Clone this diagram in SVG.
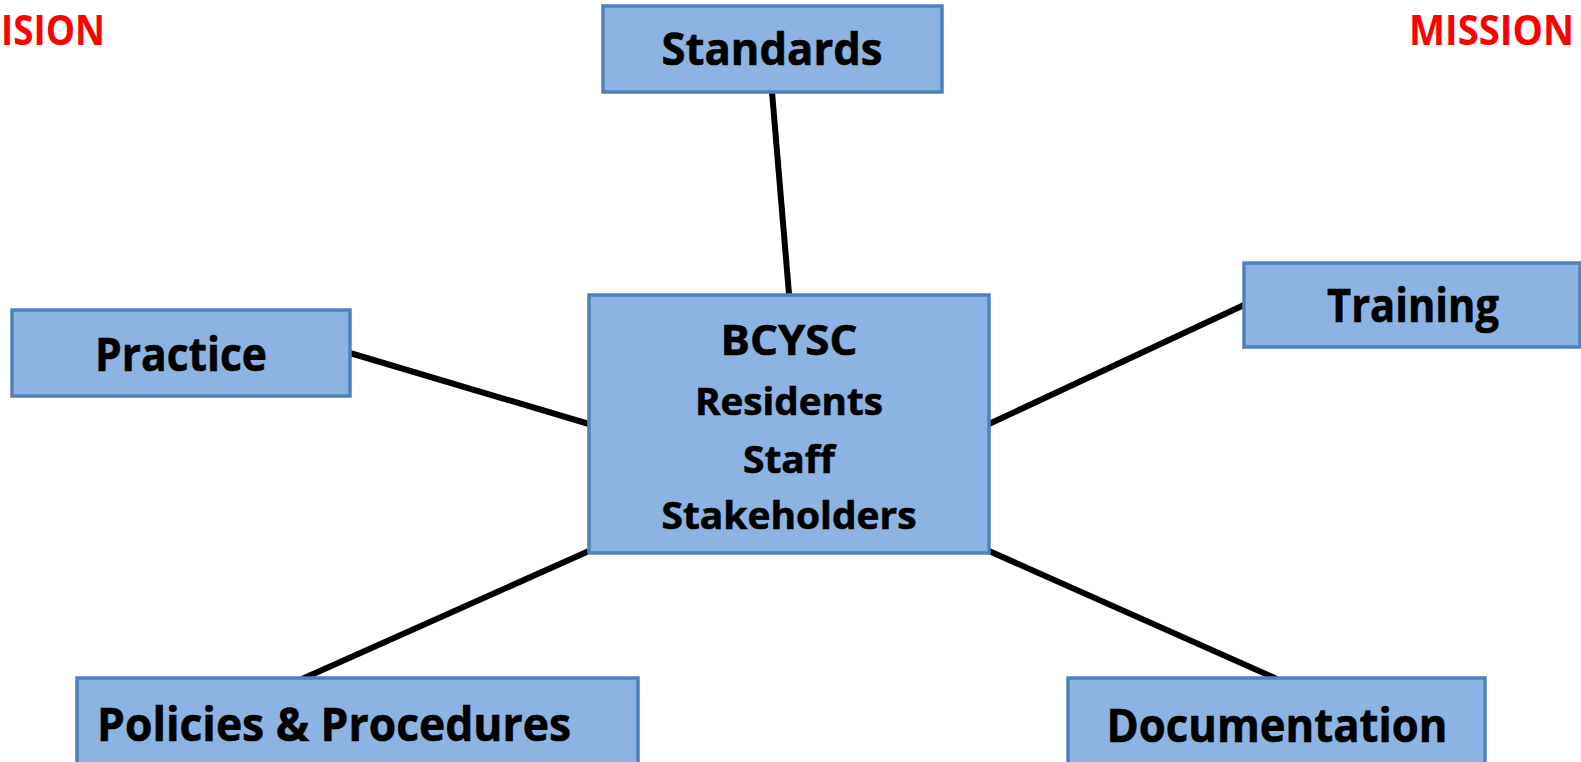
<svg xmlns="http://www.w3.org/2000/svg" width="1581" height="762" viewBox="0 0 1581 762">
<style>
.box{fill:#8db3e2;stroke:#4f81bd;stroke-width:3.5}
.t{font-family:"Open Sans","Liberation Sans",sans-serif;font-weight:bold;fill:#000;text-anchor:middle;stroke:#000;stroke-width:0.6}
.red{font-family:"Open Sans","Liberation Sans",sans-serif;font-weight:bold;fill:#ff0000;font-size:42px}
.ln{stroke:#000;stroke-width:6;fill:none}
</style>
<rect width="1581" height="762" fill="#fff"/>
<text class="red" x="105" y="45" text-anchor="end" textLength="104" lengthAdjust="spacingAndGlyphs">ISION</text>
<text class="red" x="1409" y="45" textLength="165" lengthAdjust="spacingAndGlyphs">MISSION</text>
<g id="connectors">
<line class="ln" x1="772" y1="92" x2="789" y2="294"/>
<line class="ln" x1="350" y1="353" x2="589" y2="424"/>
<line class="ln" x1="1244" y1="305" x2="989" y2="424"/>
<line class="ln" x1="302" y1="679" x2="589" y2="551"/>
<line class="ln" x1="1277" y1="679" x2="989" y2="551"/>
</g>
<g id="standards">
<rect class="box" x="603" y="6" width="339" height="86"/>
<text class="t" x="772" y="65" font-size="45" textLength="221" lengthAdjust="spacingAndGlyphs">Standards</text>
</g>
<g id="center">
<rect class="box" x="589" y="295" width="400" height="258"/>
<text class="t" x="789" y="355" font-size="42" textLength="137" lengthAdjust="spacingAndGlyphs">BCYSC</text>
<text class="t" x="789" y="415" font-size="37" textLength="188" lengthAdjust="spacingAndGlyphs">Residents</text>
<text class="t" x="789" y="473" font-size="37" textLength="92" lengthAdjust="spacingAndGlyphs">Staff</text>
<text class="t" x="789" y="529" font-size="37" textLength="255" lengthAdjust="spacingAndGlyphs">Stakeholders</text>
</g>
<g id="practice">
<rect class="box" x="12" y="310" width="338" height="86"/>
<text class="t" x="181" y="371" font-size="46" textLength="172" lengthAdjust="spacingAndGlyphs">Practice</text>
</g>
<g id="training">
<rect class="box" x="1244" y="263" width="336" height="84"/>
<text class="t" x="1413" y="322" font-size="46" textLength="172" lengthAdjust="spacingAndGlyphs">Training</text>
</g>
<g id="policies">
<rect class="box" x="77" y="678" width="561" height="100"/>
<text class="t" x="334" y="741" font-size="46" textLength="474" lengthAdjust="spacingAndGlyphs">Policies &amp; Procedures</text>
</g>
<g id="documentation">
<rect class="box" x="1068" y="678" width="417" height="100"/>
<text class="t" x="1277" y="742" font-size="46" textLength="341" lengthAdjust="spacingAndGlyphs">Documentation</text>
</g>
</svg>
